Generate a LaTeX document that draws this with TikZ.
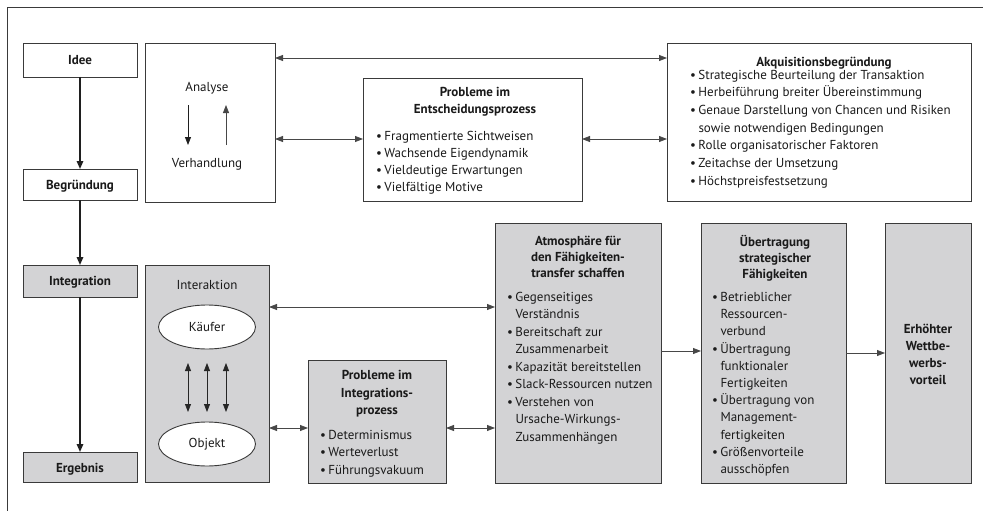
\documentclass[tikz,border=0pt]{standalone}
\usepackage{fontspec}
\setmainfont{PT Sans}
\usetikzlibrary{arrows.meta,fit,shapes.geometric}
\definecolor{boxgray}{HTML}{D3D3D5}
\definecolor{linegray}{HTML}{3A3A3A}
\definecolor{txtc}{HTML}{1A1A1A}
\newcommand\bu{\makebox[8.5pt][l]{\textbullet}}
\newcommand\ind{\hspace*{8.5pt}}
\begin{document}
\begin{tikzpicture}[x=1pt,y=-1pt,
  box/.style={draw=linegray,line width=0.9pt,inner sep=0pt,outer sep=0pt},
  wbox/.style={box,fill=white},
  gbox/.style={box,fill=boxgray},
  oval/.style={ellipse,draw=linegray,line width=0.9pt,fill=white,minimum width=97pt,minimum height=44pt,inner sep=0pt,outer sep=0pt},
  txt/.style={inner sep=0pt,outer sep=0pt,text=txtc,font=\fontsize{13}{17.3}\selectfont},
  lbl/.style={txt,anchor=base},
  blbl/.style={txt,anchor=base,font=\bfseries\fontsize{13}{17}\selectfont},
  hd/.style={txt,anchor=north,align=center,font=\bfseries\fontsize{13}{17}\selectfont},
  lst/.style={txt,anchor=north west,align=left},
  main/.style={-{Triangle[length=8pt,width=6.5pt]},line width=1.5pt,draw=black!88},
  conn/.style={line width=0.8pt,draw=black!72},
  one/.style={conn,-{Triangle[length=8pt,width=6pt]}},
  two/.style={conn,{Triangle[length=8pt,width=6pt]}-{Triangle[length=8pt,width=6pt]}}
]
\useasboundingbox (0,0) rectangle (983,511);
% frame
\draw[line width=1pt,draw=linegray] (983,8) -- (7,8) -- (7,511);

% left column
\node[wbox,fit={(23,43)(137,77)}] (idee) {};
\node[wbox,fit={(23,169)(137,200)}] (begr) {};
\node[gbox,fit={(23,265)(137,297)}] (integ) {};
\node[gbox,fit={(23,452)(137,482)}] (ergeb) {};
\node[blbl] (ideeT) at (80,64.5) {Idee};
\node[blbl] (begrT) at (80,189.5) {Begründung};
\node[blbl] (integT) at (80,285.5) {Integration};
\node[blbl] (ergebT) at (80,472) {Ergebnis};
\draw[main] (idee) -- (begr);
\draw[main] (begr) -- (integ);
\draw[main] (integ) -- (ergeb);

% Analyse box
\node[wbox,fit={(145,43)(275,202)}] (analyse) {};
\node[lbl] (analyseT) at (207,91.5) {Analyse};
\node[lbl] (verhT) at (207,167.5) {Verhandlung};
\coordinate (d1) at (188,105);
\coordinate (d2) at (188,145);
\coordinate (u1) at (226,145);
\coordinate (u2) at (226,105);
\draw[one,draw=black!88] (d1) -- (d2);
\draw[one] (u1) -- (u2);

% Probleme im Entscheidungsprozess
\node[wbox,fit={(363,78)(582,201)}] (probE) {};
\node[hd] (probEH) at (475,84.6) {\strut Probleme im\\Entscheidungsprozess};
\node[lst,font=\fontsize{13}{17}\selectfont] (probEL) at (376,128.5) {\strut\bu Fragmentierte Sichtweisen\\
\bu Wachsende Eigendynamik\\
\bu Vieldeutige Erwartungen\\
\bu Vielfältige Motive};

% Akquisitionsbegründung
\node[wbox,fit={(667,43)(971,201)}] (akq) {};
\node[blbl] (akqH) at (824,66.5) {Akquisitionsbegründung};
\node[lst,font=\fontsize{13}{17.7}\selectfont] (akqL) at (690,66.8) {\strut\bu Strategische Beurteilung der Transaktion\\
\bu Herbeiführung breiter Übereinstimmung\\
\bu Genaue Darstellung von Chancen und Risiken\\
\ind sowie notwendigen Bedingungen\\
\bu Rolle organisatorischer Faktoren\\
\bu Zeitachse der Umsetzung\\
\bu Höchstpreisfestsetzung};

\draw[two] (analyse.east |- 0,58) -- (akq.west |- 0,58);
\draw[two] (analyse.east |- 0,139) -- (probE.west |- 0,139);
\draw[two] (probE.east |- 0,139) -- (akq.west |- 0,139);

% Interaktion
\node[gbox,fit={(145,265)(269,482)}] (interak) {};
\node[lbl] (interakT) at (207,289.5) {Interaktion};
\node[oval] (kaeufer) at (207,327) {};
\node[oval] (objekt) at (207,444) {};
\node[txt] (kaeuferT) at (kaeufer) {Käufer};
\node[txt] (objektT) at (objekt) {Objekt};
\foreach \dx in {-19,0,19}{
  \draw[two,draw=black!85] ([xshift=\dx pt,yshift=-14pt]kaeufer.south) -- ([xshift=\dx pt,yshift=10pt]objekt.north);
}

% Probleme im Integrationsprozess
\node[gbox,fit={(308,360)(446,483)}] (probI) {};
\node[hd,font=\bfseries\fontsize{13}{17.5}\selectfont] (probIH) at (377,367.3) {\strut Probleme im\\Integrations-\\prozess};
\node[lst] (probIL) at (320,427.4) {\strut\bu Determinismus\\
\bu Werteverlust\\
\bu Führungsvakuum};

% Atmosphäre
\node[gbox,fit={(495,223)(661,483)}] (atmo) {};
\node[hd,font=\bfseries\fontsize{13}{16.2}\selectfont] (atmoH) at (578,234.2) {\strut Atmosphäre für\\den Fähigkeiten-\\transfer schaffen};
\node[lst,font=\fontsize{13}{17.5}\selectfont] (atmoL) at (507,289.2) {\strut\bu Gegenseitiges\\
\ind Verständnis\\
\bu Bereitschaft zur\\
\ind Zusammenarbeit\\
\bu Kapazität bereitstellen\\
\bu Slack-Ressourcen nutzen\\
\bu Verstehen von\\
\ind Ursache-Wirkungs-\\
\ind Zusammenhängen};

% Übertragung strategischer Fähigkeiten
\node[gbox,fit={(701,223)(846,483)}] (uebtr) {};
\node[hd,font=\bfseries\fontsize{13}{15.8}\selectfont] (uebtrH) at (775,235.4) {\strut Übertragung\\strategischer\\Fähigkeiten};
\node[lst,font=\fontsize{13}{17.2}\selectfont] (uebtrL) at (712,289.5) {\strut\bu Betrieblicher\\
\ind Ressourcen-\\
\ind verbund\\
\bu Übertragung\\
\ind funktionaler\\
\ind Fertigkeiten\\
\bu Übertragung von\\
\ind Management-\\
\ind fertigkeiten\\
\bu Größenvorteile\\
\ind ausschöpfen};

% Erhöhter Wettbewerbsvorteil
\node[gbox,fit={(885,223)(971,483)}] (erh) {};
\node[hd] (erhT) at (928,321.6) {\strut Erhöhter\\Wettbe-\\werbs-\\vorteil};

\draw[two] (interak.east |- 0,307) -- (atmo.west |- 0,307);
\draw[two] (interak.east |- 0,428) -- (probI.west |- 0,428);
\draw[two] (probI.east |- 0,428) -- (atmo.west |- 0,428);
\draw[one] (atmo.east |- 0,351) -- (uebtr.west |- 0,351);
\draw[one] (uebtr.east |- 0,353) -- (erh.west |- 0,353);
\end{tikzpicture}
\end{document}
